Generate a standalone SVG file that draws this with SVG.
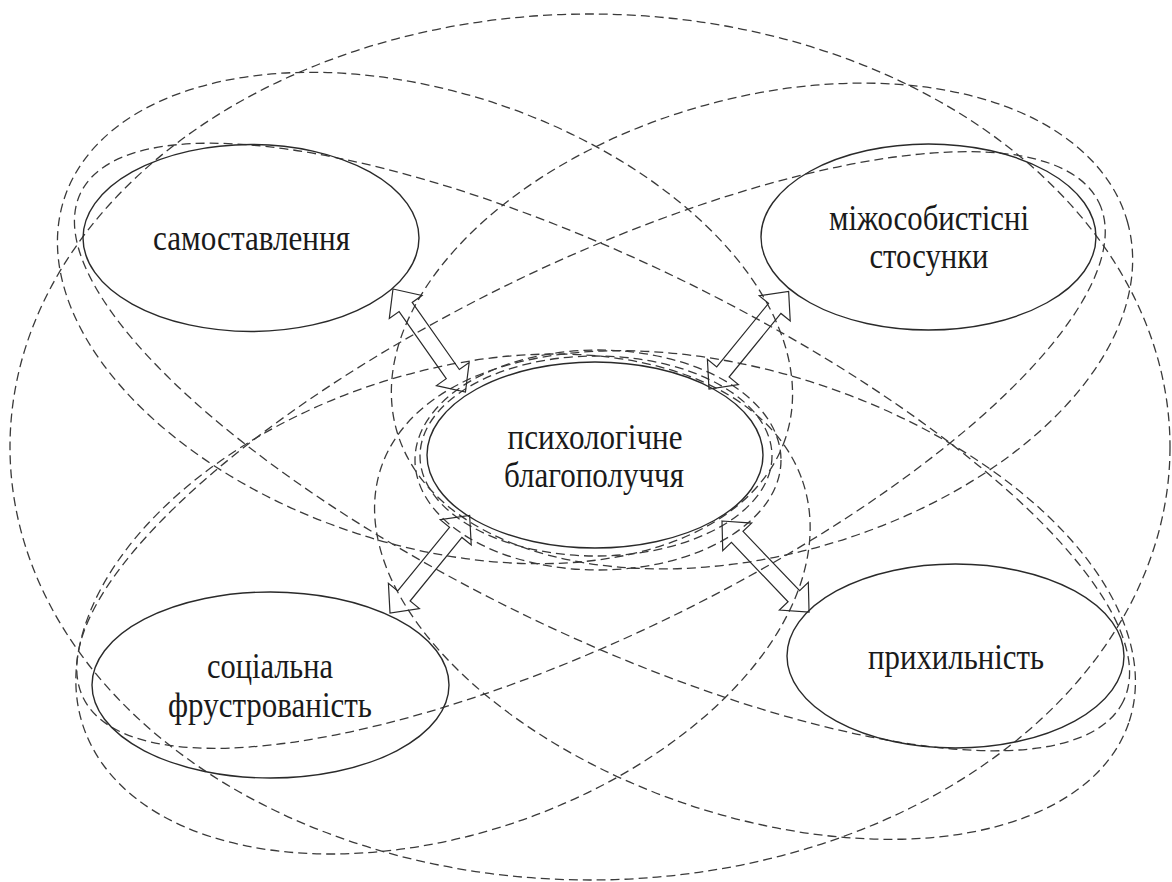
<svg xmlns="http://www.w3.org/2000/svg" width="1172" height="882" viewBox="0 0 1172 882">
<style>
.dash{fill:none;stroke:#3a3a3a;stroke-width:1.3;stroke-dasharray:9 5}
.node{fill:none;stroke:#2a2a2a;stroke-width:1.4}
.arr{fill:none;stroke:#2a2a2a;stroke-width:1.2;stroke-linejoin:miter}
.t{font-family:"Liberation Serif","Times New Roman",serif;font-size:36px;fill:#1a1a1a;text-anchor:middle}
</style>
<defs>
<polygon id="dbl" points="0,0 22,-20 22,-8 104,-8 104,-20 126,0 104,20 104,8 22,8 22,20"/>
</defs>
<rect x="0" y="0" width="1172" height="882" fill="#ffffff"/>
<g id="groups">
<ellipse class="dash" cx="590" cy="447" rx="580" ry="433"/>
<ellipse class="dash" cx="425" cy="318" rx="380" ry="226" transform="rotate(18.4 425 318)"/>
<ellipse class="dash" cx="443" cy="604" rx="380" ry="230" transform="rotate(-18.9 443 604)"/>
<ellipse class="dash" cx="762" cy="326" rx="380" ry="228" transform="rotate(-16 762 326)"/>
<ellipse class="dash" cx="755" cy="595" rx="395" ry="220" transform="rotate(18.9 755 595)"/>
<ellipse class="dash" cx="602" cy="447" rx="580" ry="185" transform="rotate(26 602 447)"/>
<ellipse class="dash" cx="591" cy="450" rx="565" ry="185" transform="rotate(-26 591 450)"/>
<ellipse class="dash" cx="596" cy="456" rx="176" ry="100"/>
<ellipse class="dash" cx="598" cy="460" rx="183" ry="110"/>
</g>
<g id="connectors">
<use href="#dbl" class="arr" transform="translate(393 289) rotate(54.9)"/>
<use href="#dbl" class="arr" transform="translate(709 389) rotate(-50.8)"/>
<use href="#dbl" class="arr" transform="translate(390 613) rotate(-50.8)"/>
<use href="#dbl" class="arr" transform="translate(722 521) rotate(46.3)"/>
</g>
<g id="node-samostavlennia">
<ellipse class="node" cx="251" cy="238" rx="168" ry="93.5"/>
<text class="t" x="251.5" y="250" textLength="197" lengthAdjust="spacingAndGlyphs">самоставлення</text>
</g>
<g id="node-mizhosobystisni">
<ellipse class="node" cx="928.5" cy="237" rx="167.5" ry="93"/>
<text class="t" x="929" y="230" textLength="200" lengthAdjust="spacingAndGlyphs">міжособистісні</text>
<text class="t" x="929" y="268" textLength="119" lengthAdjust="spacingAndGlyphs">стосунки</text>
</g>
<g id="node-tsentr">
<ellipse class="node" cx="595" cy="455" rx="168" ry="93"/>
<text class="t" x="595" y="449" textLength="175" lengthAdjust="spacingAndGlyphs">психологічне</text>
<text class="t" x="594" y="487" textLength="180" lengthAdjust="spacingAndGlyphs">благополуччя</text>
</g>
<g id="node-sotsialna">
<ellipse class="node" cx="270.5" cy="685" rx="178.5" ry="93"/>
<text class="t" x="270" y="678" textLength="126" lengthAdjust="spacingAndGlyphs">соціальна</text>
<text class="t" x="270" y="717" textLength="204" lengthAdjust="spacingAndGlyphs">фрустрованість</text>
</g>
<g id="node-prykhylnist">
<ellipse class="node" cx="955.5" cy="656" rx="168.5" ry="92"/>
<text class="t" x="956" y="669" textLength="176" lengthAdjust="spacingAndGlyphs">прихильність</text>
</g>
</svg>
